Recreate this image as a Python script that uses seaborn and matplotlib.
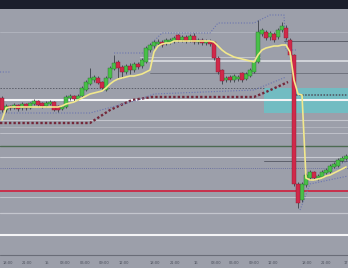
import numpy as np
import pandas as pd
import matplotlib
matplotlib.use("Agg")
import matplotlib.pyplot as plt
from matplotlib.patches import Rectangle
import seaborn as sns

# ---------------- data ----------------
open_ = [162, 150, 154, 152, 155, 152, 156, 152, 156, 159, 157, 154, 156, 158, 154, 151,
         153, 162, 164, 161, 164, 170, 176, 180, 182, 178, 170, 182, 191, 198, 193, 188,
         194, 190, 196, 194, 198, 210, 214, 216, 218, 217, 218, 219, 225, 220, 223, 220,
         224, 218, 220, 217, 219, 218, 202, 190, 180, 183, 180, 181, 187, 181, 184, 188,
         198, 226, 228, 223, 226, 223, 230, 232, 220, 205, 76, 60, 75, 82, 88, 82,
         83, 87, 88, 93, 94, 99, 101]
close = [150, 154, 152, 155, 151, 156, 152, 157, 159, 155, 154, 157, 158, 150, 150, 153,
         163, 164, 161, 164, 172, 178, 182, 183, 177, 172, 182, 192, 197, 192, 188, 194,
         190, 196, 193, 200, 212, 215, 218, 218, 215, 220, 220, 222, 220, 223, 219, 224,
         218, 220, 217, 219, 216, 202, 188, 179, 182, 180, 184, 183, 180, 186, 190, 198,
         228, 230, 222, 227, 220, 230, 234, 222, 205, 76, 57, 76, 85, 88, 82, 84,
         88, 90, 94, 96, 100, 102, 104]
high = [164, 156, 155, 157, 156, 158, 157, 158, 161, 160, 158, 159, 160, 159, 155, 155,
        165, 166, 165, 166, 174, 180, 192, 185, 184, 179, 184, 194, 205, 200, 195, 196,
        197, 198, 198, 202, 214, 217, 220, 221, 220, 222, 222, 224, 226, 225, 225, 226,
        227, 222, 222, 221, 221, 219, 204, 191, 184, 185, 186, 185, 188, 188, 192, 200,
        240, 232, 230, 229, 228, 232, 238, 235, 222, 206, 78, 78, 87, 90, 89, 86,
        90, 92, 96, 98, 102, 104, 106]
low = [148, 148, 150, 151, 149, 150, 150, 151, 155, 153, 152, 153, 155, 149, 148, 150,
       152, 160, 159, 160, 163, 169, 175, 178, 176, 170, 169, 181, 190, 182, 182, 186,
       186, 188, 191, 192, 197, 208, 212, 215, 213, 215, 216, 217, 218, 218, 217, 218,
       216, 216, 215, 215, 214, 200, 186, 176, 178, 178, 178, 179, 178, 180, 183, 187,
       197, 224, 220, 220, 218, 221, 228, 220, 203, 74, 52, 58, 73, 80, 80, 80,
       82, 86, 87, 92, 93, 98, 100]

vwap = [140, 152, 153, 153, 153, 153, 153, 153, 153, 153, 153, 153, 153, 153, 153, 154,
        156, 157, 158, 160, 162, 164, 166, 167, 168, 169, 172, 176, 179, 181, 182, 183,
        184, 184, 185, 186, 188, 190, 208, 214, 216, 217, 217, 219, 219, 219, 219, 219,
        219, 219, 219, 219, 219, 218, 214, 210, 207, 205, 203, 202, 201, 200, 199, 198,
        205, 210, 212, 213, 214, 214, 215, 215, 208, 180, 166, 165, 82, 80, 80, 81,
        82, 84, 85, 87, 89, 91, 93]

red_band_x = [-0.5, 22, 27, 32.5, 37.5, 63, 66, 71.5]
red_band_y = [137, 137, 150, 160, 163, 163, 168, 178]
grey_band_x = [73.5, 86.5]
grey_band_y = [165, 165]

upper_band_x = [-0.5, 2, np.nan, 28, 36, 37, 40, 52, 54, 63, 67, 70.5, 71, 73.5, np.nan, 83, 86.5]
upper_band_y = [188, 188, np.nan, 207, 207, 215, 227, 227, 237, 237, 245, 245, 210, 210, np.nan, 94, 99]
lower_band_x = [-0.5, 22, 34, 38, 63, 71, np.nan, 74.5, 77, 86.5]
lower_band_y = [147, 147, 160, 166, 170, 183, np.nan, 50, 76, 84]

level_prices = [228, 219.3, 203, 199, 187, 172, 160.5, 140, 133, 127, 114, 103.3, 99, 92,
                69.3, 63, 47, 25.5, 5.3]

zone_low, zone_high = 147, 172

tick_pos = [1.5, 6.25, 11.25, 15.75, 20.75, 25.5, 30.5, 38.25, 43.25, 48.5, 53.5, 58,
            63, 67.75, 76.25, 81, 86]
tick_labels = ["18:00", "21:00", "15", "03:00", "06:00", "09:00", "12:00", "18:00", "21:00",
               "16", "03:00", "06:00", "09:00", "12:00", "18:00", "21:00", "17"]

# ---------------- styling ----------------
BG = "#9c9faa"
TOP = "#1b1e2c"
GREEN = "#48c048"
RED = "#d0284a"
YELLOW = "#f2e88c"

# level styles: (color, linewidth, linestyle, xmin_frac, xmax_frac, alpha)
level_styles = [
    ("#b9bcc6", 0.6, "-", 0.0, 1.0, 0.8),
    ("#5e616c", 0.7, "-", 284 / 348, 1.0, 1.0),
    ("#c4c6ce", 0.7, "-", 140 / 348, 260 / 348, 1.0),
    ("#d6d8de", 1.3, "-", 140 / 348, 1.0, 1.0),
    ("#6a6d78", 0.6, "-", 150 / 348, 1.0, 1.0),
    ("#5a5d68", 0.7, (0, (1.5, 1.5)), 0.0, 264 / 348, 1.0),
    ("#f4f4f6", 1.5, "-", 0.0, 1.0, 1.0),
    ("#c4c6ce", 0.8, "-", 0.0, 1.0, 1.0),
    ("#b4b7c0", 0.6, "-", 0.0, 1.0, 1.0),
    ("#c0c2ca", 0.7, "-", 0.0, 1.0, 1.0),
    ("#4d6b52", 1.0, "-", 0.0, 1.0, 1.0),
    ("#c8cad2", 0.8, "-", 0.0, 1.0, 1.0),
    ("#5e616c", 0.7, "-", 264 / 348, 1.0, 1.0),
    ("#6d72a0", 0.7, (0, (1, 1.2)), 0.0, 1.0, 1.0),
    ("#c8304c", 1.4, "-", 0.0, 1.0, 1.0),
    ("#c0c2ca", 0.8, "-", 0.0, 1.0, 1.0),
    ("#c4c6ce", 0.9, "-", 0.0, 1.0, 1.0),
    ("#f4f4f6", 1.5, "-", 0.0, 1.0, 1.0),
    ("#6a6d78", 0.8, "-", 0.0, 1.0, 1.0),
]

sns.set_style("white")
fig = plt.figure(figsize=(3.48, 2.68), dpi=100, facecolor=BG)
fig.patches.append(Rectangle((0, 259 / 268), 1, 9 / 268, transform=fig.transFigure,
                             facecolor=TOP, edgecolor="none", zorder=0))
ax = fig.add_axes([0, 10 / 268, 1, 249 / 268])
ax.set_facecolor(BG)
for s in ax.spines.values():
    s.set_visible(False)

n = len(close)
idx = np.arange(n)
ax.set_xlim(-0.5, n - 0.5)
ax.set_ylim(2, 251)

# zone box
ax.axhspan(zone_low, zone_high, xmin=264 / 348, xmax=1.0, color="#72bcc2", lw=0, zorder=1)

# horizontal levels
for p, (c, lw, ls, x0, x1, a) in zip(level_prices, level_styles):
    ax.axhline(p, xmin=x0, xmax=x1, color=c, lw=lw, ls=ls, alpha=a, zorder=2)

# bands
sns.lineplot(x=red_band_x, y=red_band_y, ax=ax, color="#74283a", lw=1.7,
             linestyle=(0, (1, 0.9)), sort=False, estimator=None, zorder=3)
sns.lineplot(x=grey_band_x, y=grey_band_y, ax=ax, color="#4e505c", lw=1.1,
             linestyle=(0, (1, 1)), sort=False, estimator=None, zorder=3)
ax.plot(upper_band_x, upper_band_y, color="#6a74b0", lw=0.8, ls=(0, (1, 1.5)), zorder=3)
ax.plot(lower_band_x, lower_band_y, color="#6a74b0", lw=0.8, ls=(0, (1, 1.5)), zorder=3)

# candles
df = pd.DataFrame({"i": idx, "open": open_, "close": close, "high": high, "low": low})
up = df["close"] >= df["open"]
ax.vlines(df["i"], df["low"], df["high"], color="#3c4048", lw=0.6, zorder=4)
ax.bar(df["i"][up], (df["close"] - df["open"])[up], bottom=df["open"][up], width=0.8,
       color=GREEN, edgecolor="#2d6a33", linewidth=0.3, zorder=5)
ax.bar(df["i"][~up], (df["close"] - df["open"])[~up], bottom=df["open"][~up], width=0.8,
       color=RED, edgecolor="#8a1a30", linewidth=0.3, zorder=5)

# yellow line
sns.lineplot(x=idx, y=vwap, ax=ax, color=YELLOW, lw=1.2, zorder=6)

ax.set_yticks([])
ax.set_xticks(tick_pos)
ax.set_xticklabels(tick_labels, fontsize=2.6, color="#4a4e5a")
ax.tick_params(axis="x", length=0, pad=2.5)
ax.set_xlabel("")
ax.set_ylabel("")
if ax.get_legend():
    ax.get_legend().remove()

fig.savefig("out.png", dpi=100, facecolor=BG)
